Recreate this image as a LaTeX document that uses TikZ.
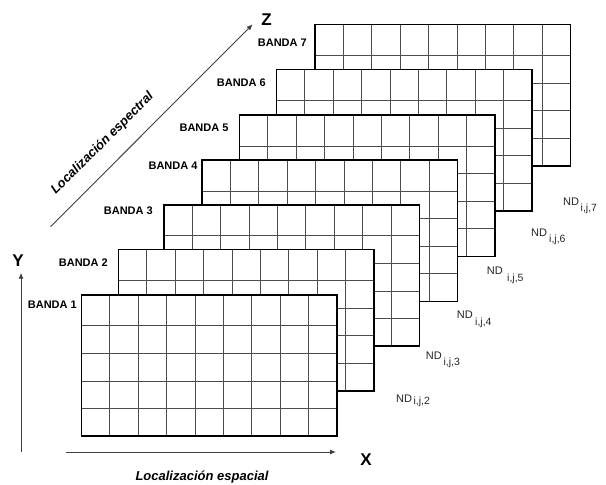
\documentclass[tikz,border=0pt]{standalone}
\usepackage{fontspec}
\setmainfont{Liberation Sans}
\usetikzlibrary{calc,arrows.meta}
\begin{document}
\begin{tikzpicture}[x=1pt,y=-1pt,
  bandbox/.style={draw=none,fill=white,minimum width=255.5pt,minimum height=141.5pt,inner sep=0pt,outer sep=0pt,anchor=north west},
  gridline/.style={line width=0.8pt,draw=black!70},
  frame/.style={line width=1.6pt,draw=black},
  bandlabel/.style={font=\fontsize{11}{11}\selectfont\bfseries,inner sep=0pt,anchor=base east},
  axislabel/.style={font=\fontsize{17}{17}\selectfont\bfseries,inner sep=0pt},
  axisarrow/.style={line width=0.9pt,draw=black!75,-{Latex[length=6pt,width=5pt]}},
  ndlabel/.style={font=\fontsize{11}{11}\selectfont,inner sep=0pt,anchor=base west,text=black!85},
  ndsub/.style={font=\fontsize{10.5}{10.5}\selectfont,inner sep=0pt,anchor=base west,text=black!85},
  loclabel/.style={font=\fontsize{13}{13}\selectfont\bfseries\itshape,inner sep=0pt}]
\useasboundingbox[fill=white] (0,0) rectangle (606,485);
% bands, back to front
\foreach \k/\l/\t/\lx/\ly in {7/315/24.3/307/46.5, 6/276.5/69.5/266/86, 5/239.5/115/228.7/131.7, 4/202/160/197.7/169.7, 3/163.8/204.7/153/214.7, 2/118.5/249.3/108/266.5, 1/81.5/294.7/77/308}
{
  \node[bandbox] (b\k) at (\l,\t) {};
  \foreach \i in {1,...,8}
    \draw[gridline] ($(b\k.north west)+(\i*28.389,0)$) -- ($(b\k.south west)+(\i*28.389,0)$);
  \foreach \j in {0,...,3}
    \draw[gridline] ($(b\k.north west)+(0,31+\j*27.625)$) -- ($(b\k.north east)+(0,31+\j*27.625)$);
  \draw[frame] (b\k.north west) rectangle (b\k.south east);
  \node[bandlabel] (l\k) at (\lx,\ly) {BANDA \k};
}
% axes
\coordinate (yfoot) at (21,451.7);
\coordinate (ytip) at (21,272.7);
\draw[axisarrow] (yfoot) -- (ytip);
\node[axislabel] (ylab) at (18,261) {Y};
\coordinate (xfoot) at (66,452);
\coordinate (xtip) at (336,452);
\draw[axisarrow] (xfoot) -- (xtip);
\node[axislabel] (xlab) at (366,460) {X};
\coordinate (zfoot) at (50.5,226.7);
\coordinate (ztip) at (252.7,24.3);
\draw[axisarrow] (zfoot) -- (ztip);
\node[axislabel] (zlab) at (266.5,19.5) {Z};
\node[loclabel] (espacial) at (202,476.7) {Localización espacial};
\node[loclabel,rotate=45] (espectral) at (102.5,143.5) {Localización espectral};
% ND labels
\node[ndlabel] (nd7) at (563,205) {ND};   \node[ndsub] (s7) at (580.5,211) {i,j,7};
\node[ndlabel] (nd6) at (531,236.7) {ND}; \node[ndsub] (s6) at (549,242.3) {i,j,6};
\node[ndlabel] (nd5) at (486.7,274.3) {ND}; \node[ndsub] (s5) at (507,281) {i,j,5};
\node[ndlabel] (nd4) at (456.7,318.3) {ND}; \node[ndsub] (s4) at (475,325.7) {i,j,4};
\node[ndlabel] (nd3) at (425.7,359) {ND}; \node[ndsub] (s3) at (443.3,365.7) {i,j,3};
\node[ndlabel] (nd2) at (396,402.3) {ND}; \node[ndsub] (s2) at (413.3,404) {i,j,2};
\end{tikzpicture}
\end{document}
